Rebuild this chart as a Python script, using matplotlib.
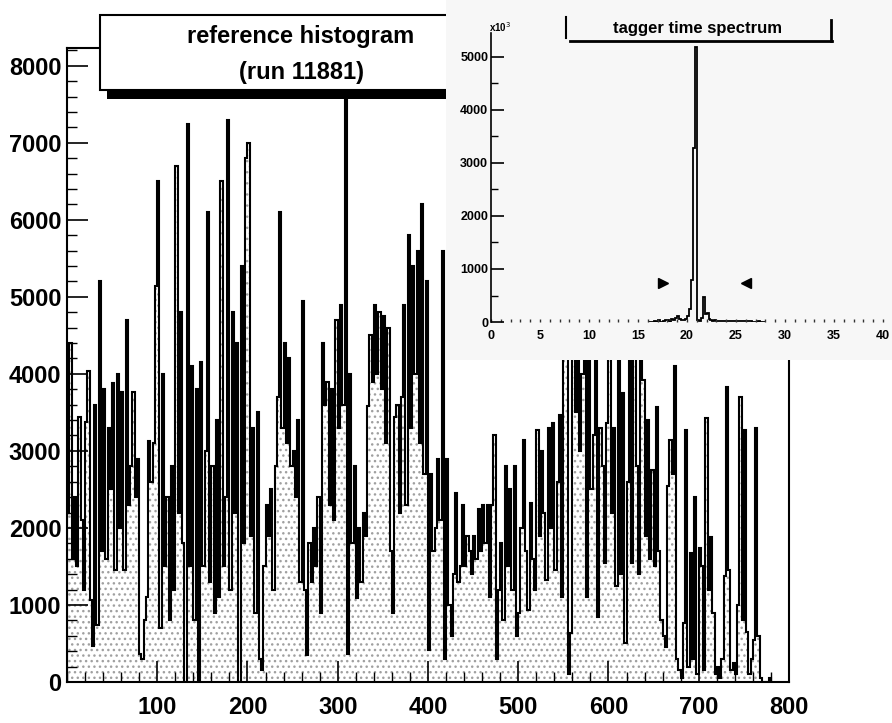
import numpy as np
import matplotlib.pyplot as plt
from matplotlib.patches import Rectangle
from matplotlib.lines import Line2D
from matplotlib.ticker import MultipleLocator

plt.rcParams['font.family'] = ['Liberation Sans', 'DejaVu Sans']

# reference histogram, bin contents (bin width 2.5), one list per 100 units
bins_000 = [2200, 4400, 1600, 2400, 1500, 3440, 2100, 1200, 3380, 4040,
            1070, 470, 3600, 740, 5200, 1700, 3800, 1600, 3300, 2500,
            3880, 1460, 4000, 2000, 3770, 1460, 4700, 2300, 2800, 3770,
            2400, 2900, 360, 300, 800, 1100, 3130, 2600, 3100, 5140]
bins_100 = [6500, 700, 4000, 1500, 2400, 800, 2800, 1200, 6700, 2200,
            4800, 1800, 0, 7250, 1500, 4100, 800, 3800, 0, 4150,
            1500, 3000, 6100, 1300, 2800, 900, 3400, 1100, 6500, 1500,
            2400, 7300, 1200, 4800, 2200, 4400, 0, 5400, 1800, 6800]
bins_200 = [7000, 1900, 3300, 900, 3500, 300, 150, 1500, 2300, 1900,
            2500, 1200, 2800, 3700, 6100, 3300, 4400, 3100, 4200, 2800,
            3000, 2400, 3400, 1300, 4950, 1200, 350, 1800, 1300, 2000,
            1500, 2400, 900, 4400, 3600, 3900, 2300, 3800, 2100, 4700]
bins_300 = [3300, 4900, 3600, 7700, 370, 4000, 1800, 2800, 1090, 2000,
            1300, 2200, 1900, 3580, 4500, 3900, 4900, 4000, 4800, 3800,
            4750, 3100, 4600, 1700, 890, 3440, 3600, 2200, 3700, 4900,
            2300, 5800, 3300, 5400, 4000, 5600, 3100, 6200, 2700, 5200]
bins_400 = [420, 2700, 1700, 2000, 2900, 2100, 5600, 300, 2900, 1000,
            600, 1400, 2450, 1300, 1500, 2300, 1500, 1900, 1700, 1400,
            1900, 1600, 2250, 1700, 2300, 1800, 2300, 1100, 2300, 3200,
            300, 1200, 1800, 800, 2800, 1500, 2500, 1200, 2800, 600]
bins_500 = [900, 2000, 3140, 1700, 930, 2320, 1600, 1200, 3270, 1900,
            3000, 2200, 1320, 3300, 2000, 3360, 1450, 2600, 3470, 1100,
            5000, 4500, 100, 630, 5500, 3500, 4500, 3000, 4000, 5000,
            1100, 5500, 2500, 3200, 5000, 850, 3300, 2800, 1540, 3360]
bins_600 = [4500, 2200, 3300, 1240, 5200, 1400, 3750, 500, 2600, 5500,
            1540, 6000, 2800, 1400, 4400, 3920, 1900, 3400, 1600, 2750,
            1500, 3576, 1700, 800, 600, 450, 2540, 3140, 2700, 4100,
            300, 150, 50, 760, 3270, 200, 1670, 300, 2400, 100]
bins_700 = [1740, 1500, 150, 3430, 1200, 1880, 900, 100, 200, 50,
            300, 1370, 3830, 1450, 150, 250, 100, 1000, 3700, 800,
            3270, 650, 100, 300, 550, 3300, 600, 50, 0, 0, 0, 50]
bin_width = 2.5

# tagger time spectrum (scaled), bins of 0.2 starting at 16
tdc_start = 16.0
tdc_width = 0.2
tdc_counts = [0, 0, 0, 20, 0, 30, 0, 0, 20, 40,
              30, 0, 60, 40, 80, 120, 60, 40, 30, 50,
              120, 250, 790, 3280, 5190, 40, 20, 80, 470, 150,
              170, 60, 30, 20, 30, 20, 25, 20, 10, 25,
              15, 10, 20, 10, 15, 10, 20, 25, 20, 15,
              25, 20, 10, 5, 0, 5, 10, 5, 0, 0]
window_x = [17.6, 26.0]
window_y = 735

ref_counts = np.array(bins_000 + bins_100 + bins_200 + bins_300 +
                      bins_400 + bins_500 + bins_600 + bins_700)
ref_edges = np.arange(len(ref_counts) + 1) * bin_width
tdc_edges = tdc_start + np.arange(len(tdc_counts) + 1) * tdc_width

fig = plt.figure(figsize=(8.92, 7.23), dpi=100)

# main panel
ax = fig.add_axes([0.0751, 0.0567, 0.8094, 0.8769], zorder=0)
ax.stairs(ref_counts, ref_edges, fill=True, facecolor='white',
          edgecolor='#a0a0a0', hatch='...', linewidth=0)
ax.stairs(ref_counts, ref_edges, color='black', linewidth=1.5)
ax.set_xlim(0, 800)
ax.set_ylim(0, 8230)
ax.set_xticks(range(100, 900, 100))
ax.set_yticks(range(0, 9000, 1000))
ax.xaxis.set_minor_locator(MultipleLocator(20))
ax.yaxis.set_minor_locator(MultipleLocator(200))
ax.tick_params(which='major', direction='in', length=15, width=1.2,
               labelsize=17, top=False, right=False)
ax.tick_params(which='minor', direction='in', length=7, width=1.0,
               top=False, right=False)
ax.tick_params(axis='x', pad=10)
ax.tick_params(axis='y', pad=4)
for lbl in ax.get_xticklabels() + ax.get_yticklabels():
    lbl.set_fontweight('bold')
for sp in ax.spines.values():
    sp.set_linewidth(1.5)

# title box of the main panel, with its shadow
fig.patches.append(Rectangle((0.1200, 0.8630), 0.50, 0.0125, transform=fig.transFigure,
                             facecolor='black', edgecolor='none', zorder=1))
fig.patches.append(Rectangle((0.1121, 0.8755), 0.50, 0.1037, transform=fig.transFigure,
                             facecolor='white', edgecolor='black', linewidth=1.5, zorder=1))
fig.text(0.3375, 0.950, 'reference histogram', ha='center', va='center',
         fontsize=17, fontweight='bold', zorder=1.5)
fig.text(0.3385, 0.900, '(run 11881)', ha='center', va='center',
         fontsize=17, fontweight='bold', zorder=1.5)

# pad holding the inset
pad = fig.add_axes([0.5, 0.502, 0.5, 0.498], zorder=2)
pad.set_facecolor('#f7f7f7')
pad.set_xticks([])
pad.set_yticks([])
for sp in pad.spines.values():
    sp.set_visible(False)

ins = fig.add_axes([0.5504, 0.5546, 0.4395, 0.3997], zorder=3)
ins.patch.set_alpha(0)
ins.stairs(tdc_counts, tdc_edges, color='black', linewidth=1.3)
ins.plot([window_x[0]], [window_y], marker='>', color='black', markersize=7, linestyle='none')
ins.plot([window_x[1]], [window_y], marker='<', color='black', markersize=7, linestyle='none')
ins.set_xlim(0, 40)
ins.set_ylim(0, 5450)
ins.set_xticks(range(0, 45, 5))
ins.set_yticks(range(0, 6000, 1000))
ins.xaxis.set_minor_locator(MultipleLocator(1))
ins.yaxis.set_minor_locator(MultipleLocator(500))
ins.tick_params(axis='y', which='major', direction='in', length=9, width=1.2,
                labelsize=9, pad=2)
ins.tick_params(axis='y', which='minor', direction='in', length=5, width=1.0)
ins.tick_params(axis='x', which='both', direction='in', length=2.5, width=1.0,
                labelsize=9, pad=6, color='#333333')
for lbl in ins.get_xticklabels() + ins.get_yticklabels():
    lbl.set_fontweight('bold')
ins.spines['top'].set_visible(False)
ins.spines['right'].set_visible(False)
ins.spines['bottom'].set_visible(False)
ins.spines['left'].set_linewidth(1.2)
fig.text(0.548, 0.962, r'x10$^{3}$', ha='left', va='center', fontsize=7,
         fontweight='bold', zorder=4)

# inset title bracket
fig.lines.append(Line2D([0.6345, 0.6345], [1 - 17 / 723, 1 - 38 / 723],
                        transform=fig.transFigure, color='black', linewidth=1.5, zorder=4))
fig.lines.append(Line2D([0.639, 0.9327], [1 - 41 / 723, 1 - 41 / 723],
                        transform=fig.transFigure, color='black', linewidth=2.0, zorder=4))
fig.lines.append(Line2D([0.9316, 0.9316], [1 - 20 / 723, 1 - 41 / 723],
                        transform=fig.transFigure, color='black', linewidth=2.0, zorder=4))
fig.text(0.7815, 1 - 28 / 723, 'tagger time spectrum', ha='center', va='center',
         fontsize=12, fontweight='bold', zorder=4)

fig.savefig('out.png', dpi=100)
